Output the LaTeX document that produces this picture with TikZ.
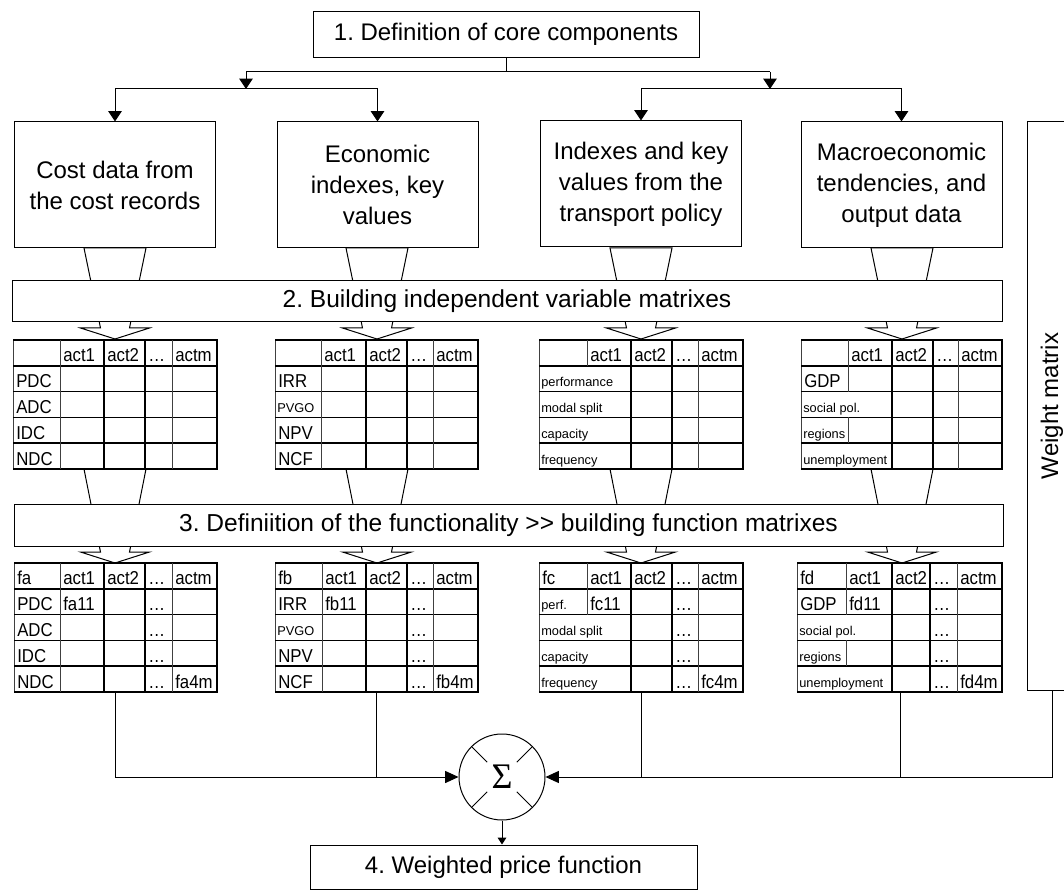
\documentclass[tikz,border=0pt]{standalone}
\usepackage{fontspec}
\setmainfont{Liberation Sans}
\newfontfamily\tabfont[FakeStretch=0.9]{Liberation Sans}
\newfontfamily\sigfont{Liberation Serif}
\usetikzlibrary{arrows.meta,calc}
\frenchspacing
\tikzset{
  tthick/.style={line width=1.3pt, black},
  tthin/.style={line width=0.6pt, black!75},
  cellbig/.style={inner sep=0pt, font=\tabfont\fontsize{14pt}{16pt}\selectfont},
  cellsmall/.style={inner sep=0pt, font=\fontsize{9.6pt}{11pt}\selectfont},
  box/.style={draw, fill=white, line width=0.75pt, align=center, inner sep=0pt,
              font=\fontsize{18pt}{23.25pt}\selectfont},
  ln/.style={line width=0.75pt},
  arr/.style={ln, -{Triangle[length=7.7pt,width=10pt]}},
  arrS/.style={ln, -{Triangle[length=10pt,width=9pt]}},
  arrT/.style={ln, -{Triangle[length=5.2pt,width=6.5pt]}},
}
% table grid: x0..x5, top y
\newcommand{\tgrid}[7]{%
  \draw[tthin] ({#1},{#7}) -- ({#1},{#7+129});
  \draw[tthick] ({#1},{#7}) -- ({#6},{#7}) -- ({#6},{#7+129}) -- ({#1},{#7+129});
  \foreach \k in {1,2,3,4} {\draw[tthick] ({#1},{#7+25.8*\k}) -- ({#6},{#7+25.8*\k});}
  \draw[tthick] ({#3},{#7}) -- ({#3},{#7+129});
  \draw[tthick] ({#4},{#7}) -- ({#4},{#7+129});
  \draw[tthin] ({#5},{#7}) -- ({#5},{#7+129});
}
\newcommand{\vseg}[3]{\draw[tthin] ({#1},{#2+25.8*#3}) -- ({#1},{#2+25.8*#3+25.8});}
\newcommand{\tcell}[5]{\node[cellbig, anchor=base west] (#1) at ({#2+3},{#3+25.8*#4+21.8}) {#5};}
\newcommand{\scell}[5]{\node[cellsmall, anchor=base west] (#1) at ({#2+2},{#3+25.8*#4+20.8}) {#5};}
\newcommand{\funnel}[3]{%
  \draw[ln, fill=white] ({#1-31},{#2}) -- ({#1+31},{#2}) -- ({#1+14.5},{#3})
    -- ({#1+34.5},{#3}) -- ({#1},{#3+11}) -- ({#1-34.5},{#3}) -- ({#1-14.5},{#3}) -- cycle;}
\begin{document}
\begin{tikzpicture}[x=0.75pt, y=-0.75pt]
\useasboundingbox (0,0) rectangle (1064,891);
\clip (0,0) rectangle (1064,891);
\fill[white] (0,0) rectangle (1064,891);

% funnels (behind bars and boxes)
\foreach \c in {115,377,641,902} {\funnel{\c}{248}{328}}
\foreach \c in {115,377,641,902} {\funnel{\c}{469}{552}}

% top box and tree
\node[box, minimum width=289.5pt, minimum height=34.2pt] (def) at (506,34.5) {1. Definition of core components};
\node[box, minimum width=150.75pt, minimum height=94.5pt] (cost) at (115,185) {Cost data from\\the cost records};
\node[box, minimum width=150.75pt, minimum height=94.5pt] (econ) at (377.5,185) {Economic\\indexes, key\\values};
\node[box, minimum width=150.75pt, minimum height=94.5pt] (trans) at (641,184) {Indexes and key\\values from the\\transport policy};
\node[box, minimum width=150.75pt, minimum height=94.5pt] (macro) at (901.5,185) {Macroeconomic\\tendencies, and\\output data};

\coordinate (hL) at (246,72);
\coordinate (hR) at (770,72);
\coordinate (jL) at (246,89);
\coordinate (jR) at (770,89);
\draw[ln] (def.south) -- (def.south |- hL);
\draw[ln] (hL) -- (hR);
\draw[arr] (hL) -- (jL);
\draw[arr] (hR) -- (jR);
\draw[arr] (jL) -| (cost.north);
\draw[arr] (jL) -| (econ.north);
\draw[arr] (jR) -| (trans.north);
\draw[arr] (jR) -| (macro.north);

% bars
\node[box, minimum width=742.5pt, minimum height=30.75pt, font=\fontsize{18.4pt}{22pt}\selectfont] (bar2) at (507,301.5) {2. Building independent variable matrixes};
\node[box, minimum width=741.75pt, minimum height=31.5pt, font=\fontsize{18.4pt}{22pt}\selectfont] (bar3) at (508.5,525) {3. Definiition of the functionality >\kern0pt> building function matrixes};

% weight matrix
\node[box, minimum width=37.5pt, minimum height=426pt] (wm) at (1052,406) {};
\node[rotate=90, font=\fontsize{18pt}{22pt}\selectfont] (wmtext) at (wm.center) {Weight matrix};

% ---------- variable tables ----------
% A
\tgrid{13}{60}{104}{145}{172}{217}{340}
\draw[tthin] (60,340) -- (60,469);
\tcell{a01}{60}{340}{0}{act1}\tcell{a02}{104}{340}{0}{act2}\tcell{a03}{145}{340}{0}{…}\tcell{a04}{172}{340}{0}{actm}
\tcell{a1}{13}{340}{1}{PDC}\tcell{a2}{13}{340}{2}{ADC}\tcell{a3}{13}{340}{3}{IDC}\tcell{a4}{13}{340}{4}{NDC}
% B
\tgrid{275}{321}{366}{407}{433}{478}{340}
\draw[tthin] (321,340) -- (321,469);
\tcell{b01}{321}{340}{0}{act1}\tcell{b02}{366}{340}{0}{act2}\tcell{b03}{407}{340}{0}{…}\tcell{b04}{433}{340}{0}{actm}
\tcell{b1}{275}{340}{1}{IRR}\scell{b2}{275}{340}{2}{PVGO}\tcell{b3}{275}{340}{3}{NPV}\tcell{b4}{275}{340}{4}{NCF}
% C
\tgrid{539}{587}{631}{672}{698}{743}{340}
\vseg{587}{340}{0}
\tcell{c01}{587}{340}{0}{act1}\tcell{c02}{631}{340}{0}{act2}\tcell{c03}{672}{340}{0}{…}\tcell{c04}{698}{340}{0}{actm}
\scell{c1}{539}{340}{1}{performance}\scell{c2}{539}{340}{2}{modal split}\scell{c3}{539}{340}{3}{capacity}\scell{c4}{539}{340}{4}{frequency}
% D
\tgrid{801}{848}{892}{933}{958}{1002}{340}
\vseg{848}{340}{0}\vseg{848}{340}{1}\vseg{848}{340}{3}
\tcell{d01}{848}{340}{0}{act1}\tcell{d02}{892}{340}{0}{act2}\tcell{d03}{933}{340}{0}{…}\tcell{d04}{958}{340}{0}{actm}
\tcell{d1}{801}{340}{1}{GDP}\scell{d2}{801}{340}{2}{social pol.}\scell{d3}{801}{340}{3}{regions}\scell{d4}{801}{340}{4}{unemployment}

% ---------- function tables ----------
% fa
\tgrid{14}{60}{104}{145}{172}{217}{563}
\draw[tthin] (60,563) -- (60,692);
\tcell{fa00}{14}{563}{0}{fa}\tcell{fa01}{60}{563}{0}{act1}\tcell{fa02}{104}{563}{0}{act2}\tcell{fa03}{145}{563}{0}{…}\tcell{fa04}{172}{563}{0}{actm}
\tcell{fa1}{14}{563}{1}{PDC}\tcell{fa11}{60}{563}{1}{fa11}\tcell{fa13}{145}{563}{1}{…}
\tcell{fa2}{14}{563}{2}{ADC}\tcell{fa23}{145}{563}{2}{…}
\tcell{fa3}{14}{563}{3}{IDC}\tcell{fa33}{145}{563}{3}{…}
\tcell{fa4}{14}{563}{4}{NDC}\tcell{fa43}{145}{563}{4}{…}\tcell{fa44}{172}{563}{4}{fa4m}
% fb
\tgrid{275}{322}{366}{407}{433}{478}{563}
\draw[tthin] (322,563) -- (322,692);
\tcell{fb00}{275}{563}{0}{fb}\tcell{fb01}{322}{563}{0}{act1}\tcell{fb02}{366}{563}{0}{act2}\tcell{fb03}{407}{563}{0}{…}\tcell{fb04}{433}{563}{0}{actm}
\tcell{fb1}{275}{563}{1}{IRR}\tcell{fb11}{322}{563}{1}{fb11}\tcell{fb13}{407}{563}{1}{…}
\scell{fb2}{275}{563}{2}{PVGO}\tcell{fb23}{407}{563}{2}{…}
\tcell{fb3}{275}{563}{3}{NPV}\tcell{fb33}{407}{563}{3}{…}
\tcell{fb4}{275}{563}{4}{NCF}\tcell{fb43}{407}{563}{4}{…}\tcell{fb44}{433}{563}{4}{fb4m}
% fc
\tgrid{539}{587}{631}{672}{698}{743}{563}
\vseg{587}{563}{0}\vseg{587}{563}{1}
\tcell{fc00}{539}{563}{0}{fc}\tcell{fc01}{587}{563}{0}{act1}\tcell{fc02}{631}{563}{0}{act2}\tcell{fc03}{672}{563}{0}{…}\tcell{fc04}{698}{563}{0}{actm}
\scell{fc1}{539}{563}{1}{perf.}\tcell{fc11}{587}{563}{1}{fc11}\tcell{fc13}{672}{563}{1}{…}
\scell{fc2}{539}{563}{2}{modal split}\tcell{fc23}{672}{563}{2}{…}
\scell{fc3}{539}{563}{3}{capacity}\tcell{fc33}{672}{563}{3}{…}
\scell{fc4}{539}{563}{4}{frequency}\tcell{fc43}{672}{563}{4}{…}\tcell{fc44}{698}{563}{4}{fc4m}
% fd
\tgrid{797}{846}{892}{930}{957}{1002}{563}
\vseg{846}{563}{0}\vseg{846}{563}{1}\vseg{846}{563}{3}
\tcell{fd00}{797}{563}{0}{fd}\tcell{fd01}{846}{563}{0}{act1}\tcell{fd02}{892}{563}{0}{act2}\tcell{fd03}{930}{563}{0}{…}\tcell{fd04}{957}{563}{0}{actm}
\tcell{fd1}{797}{563}{1}{GDP}\tcell{fd11}{846}{563}{1}{fd11}\tcell{fd13}{930}{563}{1}{…}
\scell{fd2}{797}{563}{2}{social pol.}\tcell{fd23}{930}{563}{2}{…}
\scell{fd3}{797}{563}{3}{regions}\tcell{fd33}{930}{563}{3}{…}
\scell{fd4}{797}{563}{4}{unemployment}\tcell{fd43}{930}{563}{4}{…}\tcell{fd44}{957}{563}{4}{fd4m}

% ---------- summation ----------
\node[draw, circle, line width=0.75pt, minimum size=64.5pt, inner sep=0pt, fill=white,
      font=\sigfont\fontsize{27pt}{27pt}\selectfont] (sigma) at (502,777) {Σ};
\foreach \a in {45,135,225,315} {\draw[ln] (sigma.\a) -- ($(sigma.center)!0.48!(sigma.\a)$);}

\node[box, minimum width=290.25pt, minimum height=33pt] (final) at (503.5,867) {4. Weighted price function};

\coordinate (fabot) at (115.5,692);
\coordinate (fbbot) at (376,692);
\coordinate (fcbot) at (641.5,692);
\coordinate (fdbot) at (900,692);
\draw[arrS] (fabot) |- (sigma.west);
\draw[ln] (fbbot) -- (fbbot |- sigma.west);
\draw[arrS] (wm.south) |- (sigma.east);
\draw[ln] (fcbot) -- (fcbot |- sigma.east);
\draw[ln] (fdbot) -- (fdbot |- sigma.east);
\draw[arrT] (sigma.south) -- (sigma.south |- final.north);
\end{tikzpicture}
\end{document}
